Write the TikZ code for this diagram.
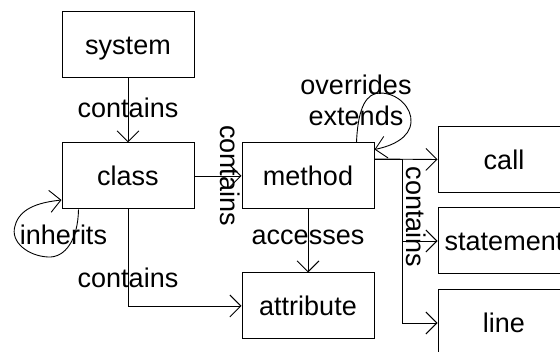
\documentclass[tikz,border=0pt]{standalone}
\usepackage{fontspec}
\setmainfont{Liberation Sans}
\usetikzlibrary{arrows.meta}
\begin{document}
\begin{tikzpicture}[x=1pt,y=-1pt,
  box/.style={draw, line width=1pt, minimum width=132pt, minimum height=66pt, inner sep=0pt, text height=20pt, text depth=0pt, font=\fontsize{27}{30}\selectfont},
  conn/.style={line width=0.9pt, -{Straight Barb[length=11pt,width=22pt]}},
  lbl/.style={font=\fontsize{27}{30}\selectfont, inner sep=0pt, anchor=base}]
\clip (0,0) rectangle (560,352);
\fill[white] (0,0) rectangle (560,352);
% boxes
\node[box] (system) at (128,45) {system};
\node[box] (class) at (128,176) {class};
\node[box] (method) at (308,176) {method};
\node[box] (attribute) at (308,306) {attribute};
\node[box] (call) at (504,159.5) {call};
\node[box] (statement) at (504,241) {statement};
\node[box] (line) at (504,323) {line};
% connectors
\draw[conn] (system) -- (class);
\draw[conn] (class.east) -- (method.west);
\draw[conn] (method) -- (attribute);
\draw[conn] (class.south) |- (attribute.west);
\coordinate (m1) at ([yshift=17pt]method.east);
\coordinate (bend) at (402,159);
\draw[conn] (m1) -- (call.west);
\draw[conn] (m1) -- (bend) |- (statement.west);
\draw[conn] (m1) -- (bend) |- (line.west);
% self loops
\coordinate (cl1) at ([xshift=17pt]class.south west);
\coordinate (cl2) at ([yshift=-24pt]class.west);
\draw[conn] (cl1) .. controls (78,240) and (65,258) .. (48,257)
  .. controls (28,256) and (10,242) .. (15,226)
  .. controls (20,206) and (44,202) .. (cl2);
\coordinate (ml1) at ([xshift=-18pt]method.north east);
\coordinate (ml2) at ([yshift=-7pt]method.north east);
\draw[conn] (ml1) .. controls (358,106) and (367,93) .. (380,93)
  .. controls (398,93) and (412,108) .. (411,122)
  .. controls (410,138) and (392,146) .. (ml2);
% labels
\node[lbl] (l1) at (128,118) {contains};
\node[lbl] (l2) at (63.5,245) {inherits};
\node[lbl] (l3) at (128,288) {contains};
\node[lbl] (l4) at (308,245) {accesses};
\node[lbl] (l5) at (356,95) {overrides};
\node[lbl] (l6) at (356,125.5) {extends};
\node[lbl, rotate=-90] (l7) at (220,175.5) {contains};
\node[lbl, rotate=-90] (l8) at (406,217) {contains};
\end{tikzpicture}
\end{document}
